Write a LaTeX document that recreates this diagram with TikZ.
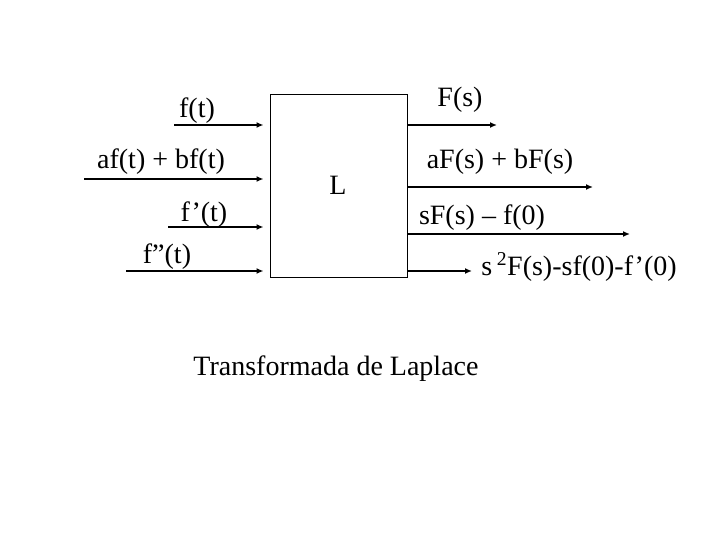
\documentclass[tikz,border=0pt]{standalone}
\usepackage{fontspec}
\setmainfont{Liberation Serif}
\usetikzlibrary{arrows.meta}
\tikzset{
  testo/.style={inner sep=0pt, font=\fontsize{28}{31}\selectfont},
  freccia/.style={line width=2pt, -{Latex[length=7pt,width=6pt]}},
}
\begin{document}
\begin{tikzpicture}[x=1pt, y=-1pt]
    \useasboundingbox (0,0) rectangle (720,540);
    %disegno scatola L
    \node[draw, line width=1pt, minimum width=137pt, minimum height=182pt, inner sep=0pt] (box) at (338.5,186) {};
    \node[testo] (L) at (338,185) {L};
    %disegno ingressi
    \coordinate (in1) at (174,125);
    \coordinate (in2) at (84,179);
    \coordinate (in3) at (168,227);
    \coordinate (in4) at (126,271);
    \draw[freccia, shorten >=6pt] (in1)--(box.west |- in1);
    \draw[freccia, shorten >=6pt] (in2)--(box.west |- in2);
    \draw[freccia, shorten >=6pt] (in3)--(box.west |- in3);
    \draw[freccia, shorten >=6pt] (in4)--(box.west |- in4);
    \node[testo] (lin1) at (197,111) {f(t)};
    \node[testo] (lin2) at (161,162) {af(t) + bf(t)};
    \node[testo] (lin3) at (204,215) {f’(t)};
    \node[testo] (lin4) at (167,257) {f”(t)};
    %disegno uscite
    \coordinate (out1) at (497,125);
    \coordinate (out2) at (593,187);
    \coordinate (out3) at (630,234);
    \coordinate (out4) at (472,271);
    \draw[freccia] (box.east |- out1)--(out1);
    \draw[freccia] (box.east |- out2)--(out2);
    \draw[freccia] (box.east |- out3)--(out3);
    \draw[freccia] (box.east |- out4)--(out4);
    \node[testo] (lout1) at (460,100) {F(s)};
    \node[testo] (lout2) at (500,162) {aF(s) + bF(s)};
    \node[testo] (lout3) at (482,218) {sF(s) – f(0)};
    \node[testo] (lout4) at (579,267) {s\,\textsuperscript{2}F(s)-sf(0)-f’(0)};
    %titolo
    \node[testo] (titolo) at (336,369) {Transformada de Laplace};
\end{tikzpicture}
\end{document}
